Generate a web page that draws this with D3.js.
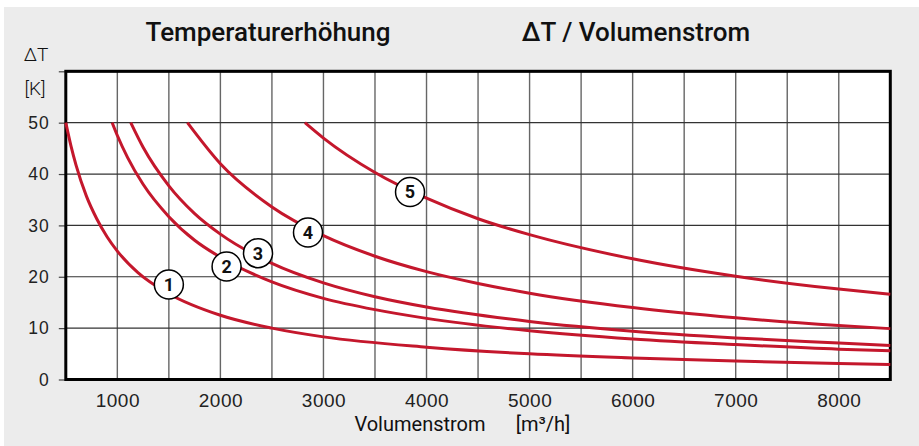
<!DOCTYPE html>
<html>
<head>
<meta charset="utf-8">
<script src="https://cdn.jsdelivr.net/npm/d3@7"></script>
<style>
  html, body { margin: 0; padding: 0; background: #fff; }
  svg { display: block; font-family: Roboto, "DejaVu Sans", sans-serif; }
</style>
</head>
<body>
<div id="chart"></div>
<script>
// curve data: volume flow [m3/h] and temperature rise [K]
const curve1V = [500, 550, 600, 700, 800, 900, 1000, 1200, 1500, 2000, 2500, 3000, 4000, 5000, 6000, 7000, 8000, 8500];
const curve1T = [50, 45.5, 41.7, 35.7, 31.3, 27.8, 25, 20.8, 16.7, 12.5, 10, 8.3, 6.3, 5, 4.2, 3.6, 3.1, 2.9];

const curve2V = [950, 1000, 1100, 1250, 1500, 1750, 2000, 2500, 3000, 3500, 4000, 5000, 6000, 7000, 8000, 8500];
const curve2T = [50, 47.5, 43.2, 38, 31.7, 27.1, 23.8, 19, 15.8, 13.6, 11.9, 9.5, 7.9, 6.8, 5.9, 5.6];

const curve3V = [1130, 1250, 1500, 1750, 2000, 2500, 3000, 3500, 4000, 5000, 6000, 7000, 8000, 8500];
const curve3T = [50, 45.2, 37.7, 32.3, 28.3, 22.6, 18.8, 16.1, 14.1, 11.3, 9.4, 8.1, 7.1, 6.6];

const curve4V = [1680, 2000, 2500, 3000, 3500, 4000, 4500, 5000, 6000, 7000, 8000, 8500];
const curve4T = [50, 42, 33.6, 28, 24, 21, 18.7, 16.8, 14, 12, 10.5, 9.9];

const curve5V = [2820, 3000, 3500, 4000, 4500, 5000, 6000, 7000, 8000, 8500];
const curve5T = [50, 47, 40.3, 35.3, 31.3, 28.2, 23.5, 20.1, 17.6, 16.6];

// circled curve numbers and where they sit
const labelNames = ["1", "2", "3", "4", "5"];
const labelV = [1500, 2060, 2365, 2850, 3840];
const labelT = [18.5, 22, 24.6, 28.6, 36.5];

const xTicks = [1000, 2000, 3000, 4000, 5000, 6000, 7000, 8000];
const xGrid = [1000, 1500, 2000, 2500, 3000, 3500, 4000, 4500, 5000, 5500, 6000, 6500, 7000, 7500, 8000];
const yTicks = [0, 10, 20, 30, 40, 50];

const curves = [
  [curve1V, curve1T], [curve2V, curve2T], [curve3V, curve3T], [curve4V, curve4T], [curve5V, curve5T]
].map(([v, t]) => v.map((d, i) => ({ v: d, t: t[i] })));

const W = 919, H = 446;
const margin = { top: 71.3, right: 28.7, bottom: 66.5, left: 65.8 };
const width = W - margin.left - margin.right,
  height = H - margin.top - margin.bottom;

const svg = d3.select("#chart").append("svg")
  .attr("width", W).attr("height", H);

// grey panel
svg.append("rect")
  .attr("x", 4).attr("y", 7)
  .attr("width", W - 4).attr("height", H - 7)
  .attr("fill", "#ececec");

const g = svg.append("g").attr("transform", `translate(${margin.left},${margin.top})`);

const x = d3.scaleLinear().domain([500, 8500]).range([0, width]);
const y = d3.scaleLinear().domain([0, 60]).range([height, 0]);

g.append("rect").attr("width", width).attr("height", height).attr("fill", "#fff");

// vertical grid
g.selectAll("line.vgrid").data(xGrid).join("line")
  .attr("class", "vgrid")
  .attr("x1", d => x(d)).attr("x2", d => x(d))
  .attr("y1", 0).attr("y2", height)
  .attr("stroke", "#666").attr("stroke-width", 1.4);

// horizontal grid
g.selectAll("line.hgrid").data(yTicks.slice(1)).join("line")
  .attr("class", "hgrid")
  .attr("x1", 0).attr("x2", width)
  .attr("y1", d => y(d)).attr("y2", d => y(d))
  .attr("stroke", "#333").attr("stroke-width", 1.2);

// y axis ticks + labels
const gy = g.append("g").call(d3.axisLeft(y).tickValues([...yTicks, 60]).tickSize(7).tickFormat(d => d === 60 ? "" : d));
gy.select(".domain").remove();
gy.selectAll(".tick line").attr("stroke", "#444").attr("stroke-width", 1.2);
gy.selectAll(".tick text")
  .attr("x", -16)
  .attr("fill", "#222")
  .style("font-size", "17.5px")
  .style("font-weight", 300)
  .style("letter-spacing", "1px");

// x axis labels
const gx = g.append("g").attr("transform", `translate(0,${height})`)
  .call(d3.axisBottom(x).tickValues(xTicks).tickSize(0).tickPadding(14).tickFormat(d3.format("d")));
gx.select(".domain").remove();
gx.selectAll(".tick text")
  .attr("fill", "#222")
  .style("font-size", "19px")
  .style("font-weight", 300)
  .style("letter-spacing", "0.5px");

// frame
g.append("rect").attr("width", width).attr("height", height)
  .attr("fill", "none").attr("stroke", "#000").attr("stroke-width", 3);
g.append("line").attr("x1", 0).attr("x2", width).attr("y1", 0).attr("y2", 0)
  .attr("stroke", "#000").attr("stroke-width", 2);

// curves
const line = d3.line().x(d => x(d.v)).y(d => y(d.t)).curve(d3.curveMonotoneX);
g.selectAll("path.curve").data(curves).join("path")
  .attr("class", "curve")
  .attr("d", line)
  .attr("fill", "none")
  .attr("stroke", "#c4172c")
  .attr("stroke-width", 3);

// circled numbers
const lab = g.selectAll("g.lab").data(labelNames).join("g")
  .attr("class", "lab")
  .attr("transform", (d, i) => `translate(${x(labelV[i])},${y(labelT[i])})`);
lab.append("circle").attr("r", 14.5).attr("fill", "#fff").attr("stroke", "#000").attr("stroke-width", 1.5);
lab.append("text").text(d => d)
  .attr("text-anchor", "middle").attr("dy", "0.36em")
  .style("font-size", "18px").style("font-weight", 700).attr("fill", "#111");

// titles
svg.append("text").attr("x", 268).attr("y", 41).attr("text-anchor", "middle")
  .style("font-size", "26px").style("font-weight", 500).attr("fill", "#111")
  .text("Temperaturerhöhung");
svg.append("text").attr("x", 636).attr("y", 41).attr("text-anchor", "middle")
  .style("font-size", "26px").style("font-weight", 500).attr("fill", "#111")
  .text("ΔT / Volumenstrom");

// axis titles
svg.append("text").attr("x", 36).attr("y", 61).attr("text-anchor", "middle")
  .style("font-size", "19px").style("font-weight", 300).attr("fill", "#111").text("ΔT");
svg.append("text").attr("x", 35).attr("y", 95).attr("text-anchor", "middle")
  .style("font-size", "19px").style("font-weight", 300).attr("fill", "#111").text("[K]");
svg.append("text").attr("x", 420).attr("y", 431).attr("text-anchor", "middle")
  .style("font-size", "20px").style("font-weight", 400).attr("fill", "#111").text("Volumenstrom");
svg.append("text").attr("x", 543).attr("y", 431).attr("text-anchor", "middle")
  .style("font-size", "20px").style("font-weight", 400).attr("fill", "#111").text("[m³/h]");
</script>
</body>
</html>
